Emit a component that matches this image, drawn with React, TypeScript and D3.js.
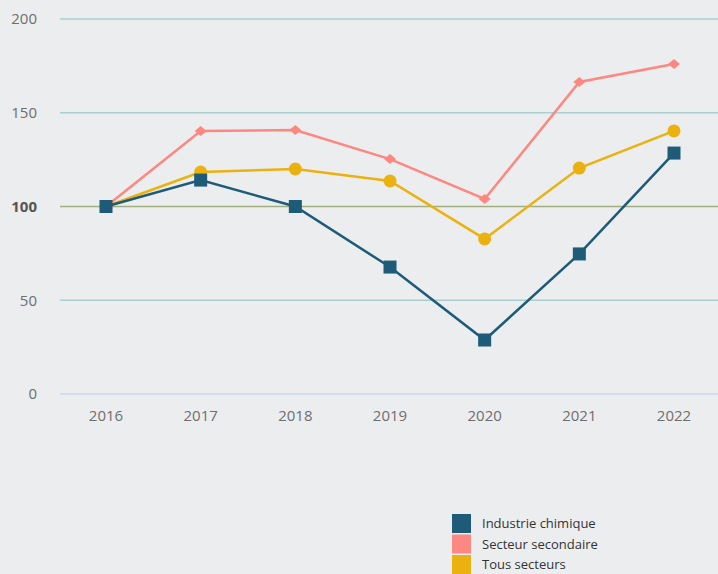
import React from "react";
import * as d3 from "d3";

const years = ["2016", "2017", "2018", "2019", "2020", "2021", "2022"];
const chimie = [100, 114.1, 100, 67.7, 28.8, 74.7, 128.5];
const secondaire = [100, 140.3, 140.8, 125.3, 104, 166.4, 176];
const tous = [100, 118.4, 120, 113.6, 82.7, 120.5, 140.3];
const yTicks = [0, 50, 100, 150, 200];
const seriesNames = ["Industrie chimique", "Secteur secondaire", "Tous secteurs"];
const colors = ["#1d5b78", "#fd8882", "#ebb20f"];

const W = 718, H = 574;
const FONT = "'Open Sans', 'Noto Sans', sans-serif";

export default function App() {
  const x = d3.scalePoint<string>().domain(years).range([106, 674]);
  const y = d3.scaleLinear().domain([0, 200]).range([394, 19]);
  const line = d3.line<number>().x((_, i) => x(years[i]) as number).y((d) => y(d));
  const diamond = "M0,-5L6,0L0,5L-6,0Z";

  const gridColor = (t: number) => (t === 100 ? "#a0ae80" : t === 0 ? "#c9d9ec" : "#a9cfcf");

  return (
    <div style={{ position: "fixed", left: 0, top: 0, width: W, height: H, background: "#ecedef" }}>
      <svg width={W} height={H} style={{ display: "block", fontFamily: FONT }}>
        <rect width={W} height={H} fill="#ecedef" />
        {yTicks.map((t) => (
          <g key={t}>
            <line x1={60} x2={W} y1={y(t)} y2={y(t)} stroke={gridColor(t)} strokeWidth={1.5} />
            <text
              x={37}
              y={y(t)}
              dy="0.35em"
              textAnchor="end"
              fontSize={15}
              fill={t === 100 ? "#555" : "#6e6e6e"}
              fontWeight={t === 100 ? 700 : 400}
            >
              {t}
            </text>
          </g>
        ))}
        {years.map((yr) => (
          <text key={yr} x={x(yr)} y={416} dy="0.35em" textAnchor="middle" fontSize={15} fill="#6e6e6e">
            {yr}
          </text>
        ))}
        {/* Secteur secondaire */}
        <path d={line(secondaire) as string} fill="none" stroke={colors[1]} strokeWidth={2.5} />
        {secondaire.map((v, i) => (
          <path key={i} d={diamond} transform={`translate(${x(years[i])},${y(v)})`} fill={colors[1]} />
        ))}
        {/* Tous secteurs */}
        <path d={line(tous) as string} fill="none" stroke={colors[2]} strokeWidth={2.5} />
        {tous.map((v, i) => (
          <circle key={i} cx={x(years[i])} cy={y(v)} r={6.5} fill={colors[2]} />
        ))}
        {/* Industrie chimique */}
        <path d={line(chimie) as string} fill="none" stroke={colors[0]} strokeWidth={2.5} />
        {chimie.map((v, i) => (
          <rect key={i} x={(x(years[i]) as number) - 6.5} y={y(v) - 6.5} width={13} height={13} fill={colors[0]} />
        ))}
        {/* Legend */}
        {seriesNames.map((n, i) => (
          <g key={n} transform={`translate(452, ${514 + i * 20.5})`}>
            <rect width={19} height={19} fill={colors[i]} />
            <text x={30} y={9.5} dy="0.35em" fontSize={13} fill="#333">
              {n}
            </text>
          </g>
        ))}
      </svg>
    </div>
  );
}
